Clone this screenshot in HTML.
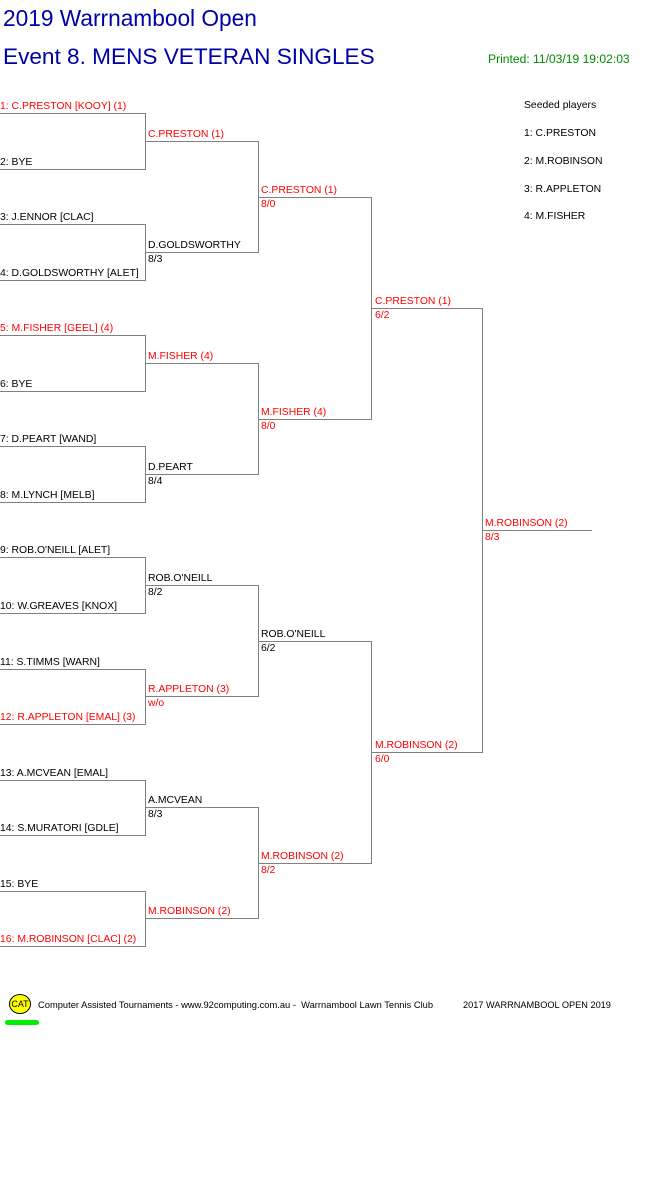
<!DOCTYPE html>
<html><head><meta charset="utf-8"><style>
body{margin:0;width:661px;height:1196px;background:#fff;position:relative;overflow:hidden;font-family:"Liberation Sans",Arial,sans-serif}
.t{position:absolute;font-size:10.4px;line-height:13px;white-space:nowrap;color:#000}
.r{color:#ff0000}
.h{position:absolute;height:1px;background:#808080}
.v{position:absolute;width:1px;background:#808080}
</style></head><body>
<div class="t" style="left:3px;top:5px;font-size:22.7px;line-height:26px;color:#0000a8">2019 Warrnambool Open</div>
<div class="t" style="left:3px;top:44px;font-size:22.6px;line-height:26px;color:#0000a8">Event 8. MENS VETERAN SINGLES</div>
<div class="t" style="left:488px;top:52px;font-size:12.1px;line-height:14px;color:#008a00">Printed: 11/03/19 19:02:03</div>
<div class="t" style="left:524px;top:99px">Seeded players</div>
<div class="t" style="left:524px;top:127px">1: C.PRESTON</div>
<div class="t" style="left:524px;top:155px">2: M.ROBINSON</div>
<div class="t" style="left:524px;top:183px">3: R.APPLETON</div>
<div class="t" style="left:524px;top:210px">4: M.FISHER</div>

<div class="h" style="left:0;width:146px;top:113px"></div>
<div class="h" style="left:0;width:146px;top:169px"></div>
<div class="h" style="left:0;width:146px;top:224px"></div>
<div class="h" style="left:0;width:146px;top:280px"></div>
<div class="h" style="left:0;width:146px;top:335px"></div>
<div class="h" style="left:0;width:146px;top:391px"></div>
<div class="h" style="left:0;width:146px;top:446px"></div>
<div class="h" style="left:0;width:146px;top:502px"></div>
<div class="h" style="left:0;width:146px;top:557px"></div>
<div class="h" style="left:0;width:146px;top:613px"></div>
<div class="h" style="left:0;width:146px;top:669px"></div>
<div class="h" style="left:0;width:146px;top:724px"></div>
<div class="h" style="left:0;width:146px;top:780px"></div>
<div class="h" style="left:0;width:146px;top:835px"></div>
<div class="h" style="left:0;width:146px;top:891px"></div>
<div class="h" style="left:0;width:146px;top:946px"></div>
<div class="v" style="left:145px;top:113px;height:57px"></div>
<div class="v" style="left:145px;top:224px;height:57px"></div>
<div class="v" style="left:145px;top:335px;height:57px"></div>
<div class="v" style="left:145px;top:446px;height:57px"></div>
<div class="v" style="left:145px;top:557px;height:57px"></div>
<div class="v" style="left:145px;top:669px;height:56px"></div>
<div class="v" style="left:145px;top:780px;height:56px"></div>
<div class="v" style="left:145px;top:891px;height:56px"></div>
<div class="h" style="left:145px;width:114px;top:141px"></div>
<div class="h" style="left:145px;width:114px;top:252px"></div>
<div class="h" style="left:145px;width:114px;top:363px"></div>
<div class="h" style="left:145px;width:114px;top:474px"></div>
<div class="h" style="left:145px;width:114px;top:585px"></div>
<div class="h" style="left:145px;width:114px;top:696px"></div>
<div class="h" style="left:145px;width:114px;top:807px"></div>
<div class="h" style="left:145px;width:114px;top:918px"></div>
<div class="v" style="left:258px;top:141px;height:112px"></div>
<div class="v" style="left:258px;top:363px;height:112px"></div>
<div class="v" style="left:258px;top:585px;height:112px"></div>
<div class="v" style="left:258px;top:807px;height:112px"></div>
<div class="h" style="left:258px;width:114px;top:197px"></div>
<div class="h" style="left:258px;width:114px;top:419px"></div>
<div class="h" style="left:258px;width:114px;top:641px"></div>
<div class="h" style="left:258px;width:114px;top:863px"></div>
<div class="v" style="left:371px;top:197px;height:223px"></div>
<div class="v" style="left:371px;top:641px;height:223px"></div>
<div class="h" style="left:371px;width:112px;top:308px"></div>
<div class="h" style="left:371px;width:112px;top:752px"></div>
<div class="v" style="left:482px;top:308px;height:445px"></div>
<div class="h" style="left:482px;width:110px;top:530px"></div>

<div class="t r" style="left:0;top:100px">1: C.PRESTON [KOOY] (1)</div>
<div class="t" style="left:0;top:156px">2: BYE</div>
<div class="t" style="left:0;top:211px">3: J.ENNOR [CLAC]</div>
<div class="t" style="left:0;top:267px">4: D.GOLDSWORTHY [ALET]</div>
<div class="t r" style="left:0;top:322px">5: M.FISHER [GEEL] (4)</div>
<div class="t" style="left:0;top:378px">6: BYE</div>
<div class="t" style="left:0;top:433px">7: D.PEART [WAND]</div>
<div class="t" style="left:0;top:489px">8: M.LYNCH [MELB]</div>
<div class="t" style="left:0;top:544px">9: ROB.O'NEILL [ALET]</div>
<div class="t" style="left:0;top:600px">10: W.GREAVES [KNOX]</div>
<div class="t" style="left:0;top:656px">11: S.TIMMS [WARN]</div>
<div class="t r" style="left:0;top:711px">12: R.APPLETON [EMAL] (3)</div>
<div class="t" style="left:0;top:767px">13: A.MCVEAN [EMAL]</div>
<div class="t" style="left:0;top:822px">14: S.MURATORI [GDLE]</div>
<div class="t" style="left:0;top:878px">15: BYE</div>
<div class="t r" style="left:0;top:933px">16: M.ROBINSON [CLAC] (2)</div>
<div class="t r" style="left:148px;top:128px">C.PRESTON (1)</div>
<div class="t" style="left:148px;top:239px">D.GOLDSWORTHY</div>
<div class="t" style="left:148px;top:253px">8/3</div>
<div class="t r" style="left:148px;top:350px">M.FISHER (4)</div>
<div class="t" style="left:148px;top:461px">D.PEART</div>
<div class="t" style="left:148px;top:475px">8/4</div>
<div class="t" style="left:148px;top:572px">ROB.O'NEILL</div>
<div class="t" style="left:148px;top:586px">8/2</div>
<div class="t r" style="left:148px;top:683px">R.APPLETON (3)</div>
<div class="t r" style="left:148px;top:697px">w/o</div>
<div class="t" style="left:148px;top:794px">A.MCVEAN</div>
<div class="t" style="left:148px;top:808px">8/3</div>
<div class="t r" style="left:148px;top:905px">M.ROBINSON (2)</div>
<div class="t r" style="left:261px;top:184px">C.PRESTON (1)</div>
<div class="t r" style="left:261px;top:198px">8/0</div>
<div class="t r" style="left:261px;top:406px">M.FISHER (4)</div>
<div class="t r" style="left:261px;top:420px">8/0</div>
<div class="t" style="left:261px;top:628px">ROB.O'NEILL</div>
<div class="t" style="left:261px;top:642px">6/2</div>
<div class="t r" style="left:261px;top:850px">M.ROBINSON (2)</div>
<div class="t r" style="left:261px;top:864px">8/2</div>
<div class="t r" style="left:375px;top:295px">C.PRESTON (1)</div>
<div class="t r" style="left:375px;top:309px">6/2</div>
<div class="t r" style="left:375px;top:739px">M.ROBINSON (2)</div>
<div class="t r" style="left:375px;top:753px">6/0</div>
<div class="t r" style="left:485px;top:517px">M.ROBINSON (2)</div>
<div class="t r" style="left:485px;top:531px">8/3</div>

<div style="position:absolute;left:9px;top:994px;width:20px;height:18px;border-radius:50%;background:#ffff00;border:1px solid #000;font-size:9px;line-height:18px;text-align:center;font-family:'Liberation Sans',sans-serif">CAT</div>
<div style="position:absolute;left:5px;top:1020px;width:34px;height:5px;border-radius:3px;background:#00ee00"></div>
<div class="t" style="left:38px;top:999px;font-size:9.35px;line-height:12px">Computer Assisted Tournaments - www.92computing.com.au -&nbsp; Warrnambool Lawn Tennis Club</div>
<div class="t" style="left:463px;top:999px;font-size:9.2px;line-height:12px">2017 WARRNAMBOOL OPEN 2019</div>
</body></html>
